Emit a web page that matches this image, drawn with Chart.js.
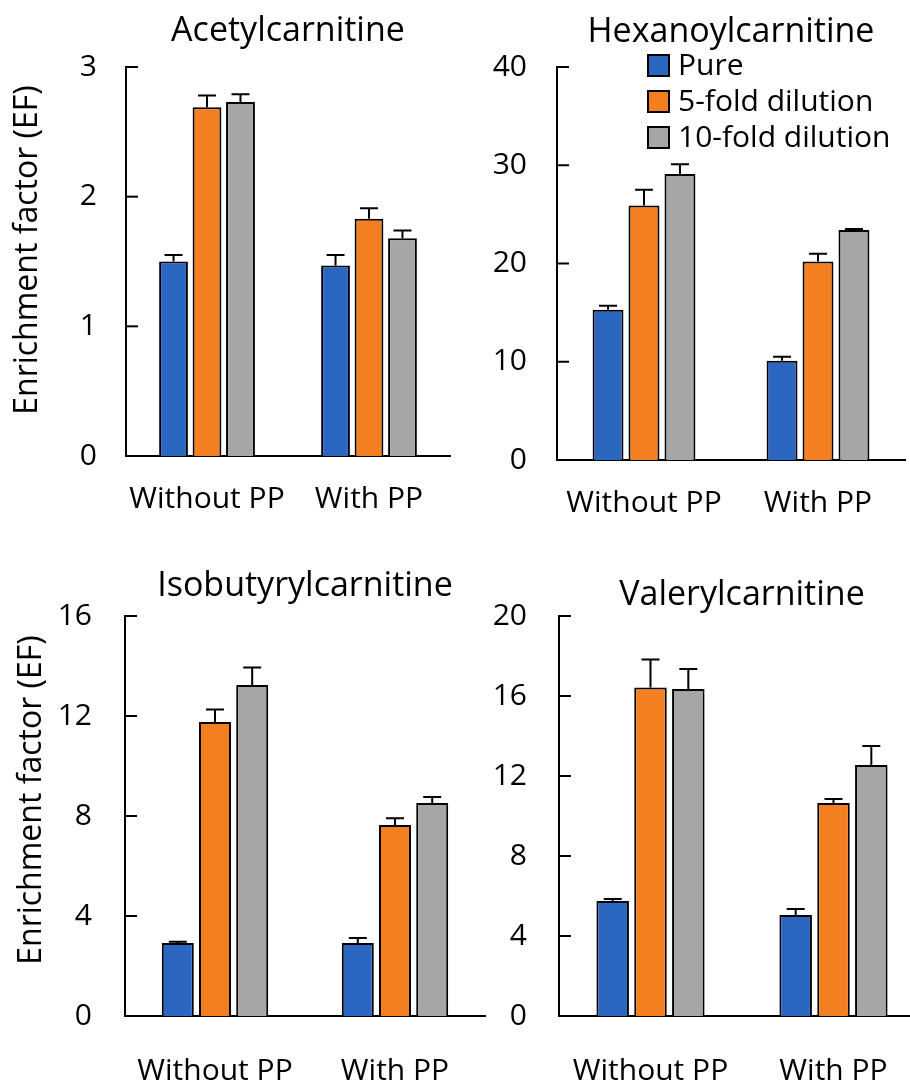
<!DOCTYPE html>
<html>
<head>
<meta charset="utf-8">
<title>Enrichment factor</title>
<script src="https://cdn.jsdelivr.net/npm/chart.js@4.4.1/dist/chart.umd.min.js"></script>
<style>
  html, body { margin: 0; padding: 0; background: #fff; overflow: hidden; width: 910px; height: 1084px; }
  canvas { position: absolute; }
</style>
</head>
<body>
<canvas id="c1" width="455" height="545" style="left:0;top:0"></canvas>
<canvas id="c2" width="455" height="545" style="left:455px;top:0"></canvas>
<canvas id="c3" width="500" height="539" style="left:0;top:545px"></canvas>
<canvas id="c4" width="470" height="539" style="left:455px;top:545px"></canvas>
<script>
// categories and series
var categories = ['Without PP', 'With PP'];
var seriesNames = ['Pure', '5-fold dilution', '10-fold dilution'];
var seriesColors = ['#2b66c0', '#f47f20', '#a6a6a6'];
var yAxisTitle = 'Enrichment factor (EF)';

// Acetylcarnitine
var acetylPure = [1.50, 1.47];
var acetylFive = [2.69, 1.83];
var acetylTen = [2.73, 1.68];
var acetylPureErr = [0.05, 0.08];
var acetylFiveErr = [0.09, 0.08];
var acetylTenErr = [0.06, 0.06];

// Hexanoylcarnitine
var hexPure = [15.3, 10.1];
var hexFive = [25.9, 20.2];
var hexTen = [29.1, 23.4];
var hexPureErr = [0.4, 0.4];
var hexFiveErr = [1.6, 0.8];
var hexTenErr = [1.0, 0.1];

// Isobutyrylcarnitine
var isoPure = [2.92, 2.92];
var isoFive = [11.76, 7.64];
var isoTen = [13.24, 8.52];
var isoPureErr = [0.05, 0.2];
var isoFiveErr = [0.5, 0.27];
var isoTenErr = [0.7, 0.24];

// Valerylcarnitine
var valPure = [5.75, 5.05];
var valFive = [16.43, 10.65];
var valTen = [16.35, 12.55];
var valPureErr = [0.1, 0.3];
var valFiveErr = [1.4, 0.2];
var valTenErr = [1.0, 0.95];

// y axis tick settings [max, step]
var acetylTicks = [3, 1];
var hexTicks = [40, 10];
var isoTicks = [16, 4];
var valTicks = [20, 4];

var FONT = "'Open Sans', 'Noto Sans', sans-serif";
Chart.defaults.font.family = FONT;
Chart.defaults.color = '#000';

// upward error bars, computed from the y scale
var errorBars = {
  id: 'errorBars',
  afterDatasetsDraw: function(chart) {
    var ctx = chart.ctx, y = chart.scales.y;
    ctx.save();
    ctx.strokeStyle = '#000';
    ctx.lineWidth = 2;
    chart.data.datasets.forEach(function(ds, i) {
      chart.getDatasetMeta(i).data.forEach(function(bar, j) {
        var top = y.getPixelForValue(ds.data[j] + ds.errors[j]);
        ctx.beginPath();
        ctx.moveTo(bar.x, bar.y);
        ctx.lineTo(bar.x, top);
        ctx.moveTo(bar.x - 9, top);
        ctx.lineTo(bar.x + 9, top);
        ctx.stroke();
      });
    });
    ctx.restore();
  }
};

// tick marks pointing into the plot, title, y title and legend
var panelText = {
  id: 'panelText',
  afterDraw: function(chart, args, opts) {
    var ctx = chart.ctx, a = chart.chartArea, y = chart.scales.y;
    ctx.save();
    ctx.strokeStyle = '#000';
    ctx.lineWidth = 2;
    y.ticks.forEach(function(t) {
      var p = y.getPixelForValue(t.value);
      ctx.beginPath();
      ctx.moveTo(a.left, p);
      ctx.lineTo(a.left + 12, p);
      ctx.stroke();
    });
    ctx.fillStyle = '#000';
    ctx.font = '34px ' + FONT;
    ctx.textAlign = 'center';
    ctx.textBaseline = 'alphabetic';
    ctx.fillText(opts.title, (a.left + a.right) / 2, opts.titleY);
    if (opts.yTitle) {
      ctx.save();
      ctx.font = '32px ' + FONT;
      ctx.textBaseline = 'middle';
      ctx.translate(opts.yTitle[0], opts.yTitle[1]);
      ctx.rotate(-Math.PI / 2);
      ctx.fillText(yAxisTitle, 0, 0);
      ctx.restore();
    }
    if (opts.legend) {
      ctx.font = '30px ' + FONT;
      ctx.textAlign = 'left';
      ctx.textBaseline = 'middle';
      chart.data.datasets.forEach(function(ds, i) {
        var cy = opts.legend.y + i * 36;
        ctx.fillStyle = ds.backgroundColor;
        ctx.fillRect(opts.legend.x, cy - 10, 21, 21);
        ctx.lineWidth = 2;
        ctx.strokeRect(opts.legend.x, cy - 10, 21, 21);
        ctx.fillStyle = '#000';
        ctx.fillText(ds.label, opts.legend.x + 30, cy + 1);
      });
    }
    ctx.restore();
  }
};

function makePanel(id, title, series, errors, ticks, box) {
  var canvas = document.getElementById(id);
  var datasets = series.map(function(vals, i) {
    return {
      label: seriesNames[i],
      data: vals,
      errors: errors[i],
      backgroundColor: seriesColors[i],
      borderColor: '#000',
      borderWidth: 2,
      categoryPercentage: 0.62,
      barPercentage: 0.86
    };
  });
  return new Chart(canvas.getContext('2d'), {
    type: 'bar',
    data: { labels: categories, datasets: datasets },
    options: {
      responsive: false,
      animation: false,
      layout: {
        padding: { left: 0, top: box.top, right: canvas.width - box.right, bottom: 0 }
      },
      plugins: {
        legend: { display: false },
        tooltip: { enabled: false },
        panelText: { title: title, titleY: box.titleY, legend: box.legend, yTitle: box.yTitle }
      },
      scales: {
        x: {
          grid: { display: false, drawTicks: false },
          border: { display: true, color: '#000', width: 2 },
          ticks: { font: { size: 30 }, padding: box.xPad, maxRotation: 0 },
          afterFit: function(s) { s.height = canvas.height - box.bottom; }
        },
        y: {
          min: 0,
          max: ticks[0],
          grid: { display: false, drawTicks: false },
          border: { display: true, color: '#000', width: 2 },
          ticks: { stepSize: ticks[1], font: { size: 30 }, padding: box.yPad },
          afterFit: function(s) { s.width = box.left; }
        }
      }
    },
    plugins: [errorBars, panelText]
  });
}

makePanel('c1', 'Acetylcarnitine',
  [acetylPure, acetylFive, acetylTen], [acetylPureErr, acetylFiveErr, acetylTenErr], acetylTicks,
  { left: 126, right: 450, top: 67, bottom: 456, titleY: 41, xPad: 25, yPad: 29, yTitle: [28, 250] });

makePanel('c2', 'Hexanoylcarnitine',
  [hexPure, hexFive, hexTen], [hexPureErr, hexFiveErr, hexTenErr], hexTicks,
  { left: 102, right: 450, top: 67, bottom: 460, titleY: 42, xPad: 25, yPad: 30,
    legend: { x: 193, y: 65 } });

makePanel('c3', 'Isobutyrylcarnitine',
  [isoPure, isoFive, isoTen], [isoPureErr, isoFiveErr, isoTenErr], isoTicks,
  { left: 125, right: 485, top: 71, bottom: 471, titleY: 51, xPad: 37, yPad: 33, yTitle: [32, 255] });

makePanel('c4', 'Valerylcarnitine',
  [valPure, valFive, valTen], [valPureErr, valFiveErr, valTenErr], valTicks,
  { left: 104, right: 470, top: 71, bottom: 471, titleY: 60, xPad: 37, yPad: 32 });
</script>
</body>
</html>
